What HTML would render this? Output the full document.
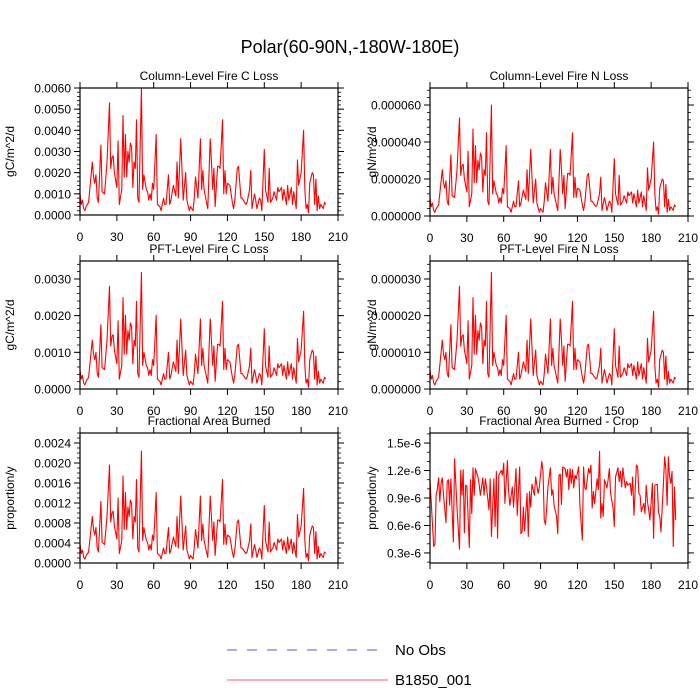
<!DOCTYPE html>
<html><head><meta charset="utf-8"><style>
html,body{margin:0;padding:0;background:#fff;width:700px;height:700px;overflow:hidden}
svg text{font-family:"Liberation Sans",sans-serif;fill:#000}
</style></head><body>
<svg id="chart" width="700" height="700" viewBox="0 0 700 700" xmlns="http://www.w3.org/2000/svg">
<text x="350" y="53" font-size="18" text-anchor="middle">Polar(60-90N,-180W-180E)</text>
<g>
<line x1="227" y1="650" x2="385" y2="650" stroke="#5a5ad0" stroke-width="1" stroke-dasharray="10,10"/>
<text x="395" y="655" font-size="15">No Obs</text>
<line x1="227" y1="680" x2="388" y2="680" stroke="#ff6060" stroke-width="1"/>
<text x="395" y="685" font-size="15">B1850_001</text>
</g>
</svg>
<script>
const years=[0,1,2,3,4,5,7,10,11,12,13,14,15,17,18,20,22,24,25,26,27,28,30,31,32,34,35,36,37,38,39,40,41,42,43,44,45,46,47,48,50,51,52,54,55,56,57,58,59,60,62,63,65,66,68,69,70,72,73,74,76,78,79,80,82,84,86,87,89,90,92,93,94,96,98,99,100,101,103,104,106,107,108,109,110,112,113,114,116,117,118,119,120,122,124,125,126,128,129,131,132,133,135,136,138,139,140,142,143,144,146,147,148,150,151,153,154,155,157,158,160,161,162,164,165,166,168,169,170,172,173,174,176,177,178,180,182,183,184,185,186,187,189,190,191,192,193,194,195,196,198,199,200];
// column C loss (1e-4 gC/m^2/d)
const colC=[10,5,7,3,2,4,6,25,18,15,19,8,6,33,11,10,25,53,22,27,28,20,13,35,5,12,47,18,38,18,30,25,34,32,13,25,22,45,8,6,60,12,19,12,11,7,10,7,15,12,38,5,4,2,8,5,5,19,5,7,14,9,25,8,36,7,20,7,2,4,2,8,18,8,36,12,21,12,6,3,36,25,12,22,4,23,23,22,45,10,21,10,15,14,6,3,7,22,23,8,8,7,5,6,12,21,3,10,7,3,8,7,2,31,12,6,22,6,8,11,7,13,11,13,7,12,5,14,7,13,5,11,3,26,14,20,40,12,3,5,1,15,20,19,5,17,2,9,3,5,3,6,5];
// column N loss (1e-6 gN/m^2/d)
const colN=[10,5,7,3,2,4,6,25,18,15,19,8,6,33,11,10,25,53,22,27,28,20,13,35,5,12,47,18,38,18,30,25,34,32,13,25,22,45,8,6,60,12,19,12,11,7,10,7,15,12,38,5,4,2,8,5,5,19,5,7,14,9,25,8,36,7,20,7,2,4,2,8,18,8,36,12,21,12,6,3,36,25,12,22,4,23,23,22,45,10,21,10,15,14,6,3,7,22,23,8,8,7,5,6,12,21,3,10,7,3,8,7,2,31,12,6,22,6,8,11,7,13,11,13,7,12,5,14,7,13,5,11,3,26,14,20,40,12,3,5,1,15,20,19,5,17,2,9,3,5,3,6,5];
// PFT C loss (1e-4)
const pftC=[5.3,2.7,3.7,1.6,1.1,2.1,3.2,13.3,9.5,8,10,4.2,3.2,17.5,5.8,5.3,13.3,28,11.7,14.3,14.8,10.6,6.9,18.6,2.7,6.4,24.9,9.5,20.1,9.5,15.9,13.3,18,17,6.9,13.3,11.7,23.9,4.2,3.2,31.8,6.4,10,6.4,5.8,3.7,5.3,3.7,8,6.4,20.1,2.7,2.1,1.1,4.2,2.7,2.7,10,2.7,3.7,7.4,4.8,13.3,4.2,19.1,3.7,10.6,3.7,1.1,2.1,1.1,4.2,9.5,4.2,19.1,6.4,11.1,6.4,3.2,1.6,19.1,13.3,6.4,11.7,2.1,12.2,12.2,11.7,23.9,5.3,11.1,5.3,8,7.4,3.2,1.6,3.7,11.7,12.2,4.2,4.2,3.7,2.7,3.2,6.4,11.1,1.6,5.3,3.7,1.6,4.2,3.7,1.1,16.4,6.4,3.2,11.7,3.2,4.2,5.8,3.7,6.9,5.8,6.9,3.7,6.4,2.7,7.4,3.7,6.9,2.7,5.8,1.6,13.8,7.4,10.6,21.2,6.4,1.6,2.7,0.5,8,10.6,10,2.7,9,1.1,4.8,1.6,2.7,1.6,3.2,2.7];
// PFT N loss (1e-6)
const pftN=[5.3,2.7,3.7,1.6,1.1,2.1,3.2,13.3,9.5,8,10,4.2,3.2,17.5,5.8,5.3,13.3,28,11.7,14.3,14.8,10.6,6.9,18.6,2.7,6.4,24.9,9.5,20.1,9.5,15.9,13.3,18,17,6.9,13.3,11.7,23.9,4.2,3.2,31.8,6.4,10,6.4,5.8,3.7,5.3,3.7,8,6.4,20.1,2.7,2.1,1.1,4.2,2.7,2.7,10,2.7,3.7,7.4,4.8,13.3,4.2,19.1,3.7,10.6,3.7,1.1,2.1,1.1,4.2,9.5,4.2,19.1,6.4,11.1,6.4,3.2,1.6,19.1,13.3,6.4,11.7,2.1,12.2,12.2,11.7,23.9,5.3,11.1,5.3,8,7.4,3.2,1.6,3.7,11.7,12.2,4.2,4.2,3.7,2.7,3.2,6.4,11.1,1.6,5.3,3.7,1.6,4.2,3.7,1.1,16.4,6.4,3.2,11.7,3.2,4.2,5.8,3.7,6.9,5.8,6.9,3.7,6.4,2.7,7.4,3.7,6.9,2.7,5.8,1.6,13.8,7.4,10.6,21.2,6.4,1.6,2.7,0.5,8,10.6,10,2.7,9,1.1,4.8,1.6,2.7,1.6,3.2,2.7];
// fractional area burned (1e-4 proportion/y)
const farea=[3.8,1.9,2.6,1.1,0.8,1.5,2.2,9.3,6.7,5.6,7.1,3,2.2,12.3,4.1,3.7,9.3,19.6,8.2,10,10.4,7.4,4.8,13,1.9,4.5,17.4,6.7,14.1,6.7,11.2,9.3,12.6,11.9,4.8,9.3,8.2,16.7,3,2.2,22.4,4.5,7.1,4.5,4.1,2.6,3.7,2.6,5.6,4.5,14.1,1.9,1.5,0.8,3,1.9,1.9,7.1,1.9,2.6,5.2,3.3,9.3,3,13.4,2.6,7.4,2.6,0.8,1.5,0.8,3,6.7,3,13.4,4.5,7.8,4.5,2.2,1.1,13.4,9.3,4.5,8.2,1.5,8.6,8.6,8.2,16.7,3.7,7.8,3.7,5.6,5.2,2.2,1.1,2.6,8.2,8.6,3,3,2.6,1.9,2.2,4.5,7.8,1.1,3.7,2.6,1.1,3,2.6,0.8,11.5,4.5,2.2,8.2,2.2,3,4.1,2.6,4.8,4.1,4.8,2.6,4.5,1.9,5.2,2.6,4.8,1.9,4.1,1.1,9.7,5.2,7.4,14.9,4.5,1.1,1.9,0.4,5.6,7.4,7.1,1.9,6.3,0.8,3.3,1.1,1.9,1.1,2.2,1.9];
const cropYears=[0,3,4,5,6,7,8,9,10,11,13,14,15,16,17,19,20,22,24,25,26,27,28,29,30,32,33,34,35,36,37,39,40,41,43,44,45,46,48,49,50,52,53,54,55,56,58,59,60,61,63,64,65,67,68,70,71,73,74,75,76,77,79,80,81,82,83,85,86,87,88,89,91,92,93,94,95,96,98,99,100,101,103,104,105,106,107,108,110,111,112,113,114,115,116,117,118,119,121,122,124,125,126,127,129,130,131,132,133,134,136,137,138,139,140,141,142,144,145,146,147,149,150,151,153,154,155,156,157,158,159,160,161,163,164,165,166,168,169,170,171,172,174,175,176,177,178,179,181,182,183,185,186,187,188,190,191,192,193,194,195,196,197,198,199,200];
// fractional area burned crop (1e-7 proportion/y)
const cropArea=[11,3.7,3.9,9.3,10,11.2,8.6,10.6,11.2,9.3,6.3,10.8,11,8.2,11.1,4.2,13.3,7.9,3.4,12,9.3,12.1,5.2,10.4,10.3,3.6,11,7.3,12.3,9.3,12.2,11.3,10.5,9.3,11.2,9.3,11.1,10.2,7.7,11.1,4.8,11.1,5.9,11.9,4.6,11.5,12,11.5,12.8,8.4,13.1,9.7,8.2,10.2,8,12.2,7.1,12.4,5.1,5.3,8,5.4,9.5,4.8,9.7,8,10.5,9.3,11.3,10.4,9.5,10.2,13,11.9,6.6,6.1,8,10.2,12.3,9.3,9.9,8.2,7,5.1,11.5,11.6,8.3,12.4,12.2,11.3,12.1,9.9,12.2,10.6,12.1,10.1,11.5,11.1,12.4,8.2,4.4,12.4,10.1,9.9,12.2,11.7,12.6,7.9,9.7,8.4,11.1,9.9,14.1,6.8,8.4,7,11,10.1,11,12.2,9.5,7.9,5.9,11.3,12.3,10.8,11.9,10.2,12.3,11.1,10.1,10.8,10.4,10.6,9.3,11.3,7.1,12.6,12.4,9.5,9.3,7.5,8.4,7.3,10.4,8.6,7.7,6.6,10.6,4.6,10.4,10.5,7.4,7,5.3,10.6,13.5,12.1,8.2,13.5,11.3,10.6,11.9,3.7,10.2,6.6];
const xTicks=[0,30,60,90,120,150,180,210];
const ticks1=["0.0000","0.0010","0.0020","0.0030","0.0040","0.0050","0.0060"];
const ticks2=["0.000000","0.000020","0.000040","0.000060"];
const ticks3=["0.0000","0.0010","0.0020","0.0030"];
const ticks4=["0.000000","0.000010","0.000020","0.000030"];
const ticks5=["0.0000","0.0004","0.0008","0.0012","0.0016","0.0020","0.0024"];
const ticks6=["0.3e-6","0.6e-6","0.9e-6","1.2e-6","1.5e-6"];

const NS="http://www.w3.org/2000/svg";
const svg=document.getElementById('chart');
function mk(tag,attrs,parent){const e=document.createElementNS(NS,tag);for(const k in attrs)e.setAttribute(k,attrs[k]);(parent||svg).appendChild(e);return e;}

const panels=[
 {name:'column-c-loss',title:'Column-Level Fire C Loss',ylab:'gC/m^2/d',x0:80,y0:88,y1:215,ymin:0,ymax:0.006,unit:1e-4,xs:years,vs:colC,tlab:ticks1,t0:0,tstep:0.001,minor:0.0002,labx:10},
 {name:'column-n-loss',title:'Column-Level Fire N Loss',ylab:'gN/m^2/d',x0:430,y0:88,y1:216,ymin:0,ymax:0.0000692,unit:1e-6,xs:years,vs:colN,tlab:ticks2,t0:0,tstep:0.00002,minor:0.000004,labx:372},
 {name:'pft-c-loss',title:'PFT-Level Fire C Loss',ylab:'gC/m^2/d',x0:80,y0:261,y1:389,ymin:0,ymax:0.00349,unit:1e-4,xs:years,vs:pftC,tlab:ticks3,t0:0,tstep:0.001,minor:0.0002,labx:10},
 {name:'pft-n-loss',title:'PFT-Level Fire N Loss',ylab:'gN/m^2/d',x0:430,y0:261,y1:389,ymin:0,ymax:0.0000349,unit:1e-6,xs:years,vs:pftN,tlab:ticks4,t0:0,tstep:0.00001,minor:0.000002,labx:372},
 {name:'fractional-area-burned',title:'Fractional Area Burned',ylab:'proportion/y',x0:80,y0:433,y1:563,ymin:0,ymax:0.0026,unit:1e-4,xs:years,vs:farea,tlab:ticks5,t0:0,tstep:0.0004,minor:0.0001,labx:10},
 {name:'fractional-area-burned-crop',title:'Fractional Area Burned - Crop',ylab:'proportion/y',x0:430,y0:433,y1:563,ymin:0.19e-6,ymax:1.61e-6,unit:1e-7,xs:cropYears,vs:cropArea,tlab:ticks6,t0:0.3e-6,tstep:0.3e-6,minor:0.1e-6,labx:372}
];
const W=258;
panels.forEach(p=>{
  const g=mk('g',{});
  
  
  const xS=v=>p.x0+v/210*W;
  const yS=v=>p.y1-(v-p.ymin)/(p.ymax-p.ymin)*(p.y1-p.y0);
  let d='';
  const n=Math.min(p.xs.length,p.vs.length);
  for(let i=0;i<n;i++){d+=(i?'L':'M')+xS(p.xs[i]).toFixed(2)+','+yS(p.vs[i]*p.unit).toFixed(2);}
  const ln=mk('path',{d:d,fill:'none',stroke:'#ff0000','stroke-width':1.1,'stroke-linejoin':'round'},g);
  
  
  const bx=mk('rect',{x:p.x0,y:p.y0,width:W,height:p.y1-p.y0,fill:'none',stroke:'#000','stroke-width':1.2},g);
  
  
  xTicks.forEach(t=>{
    const x=xS(t);
    mk('line',{x1:x,y1:p.y1,x2:x,y2:p.y1+6,stroke:'#000','stroke-width':1},g);
    mk('line',{x1:x,y1:p.y0,x2:x,y2:p.y0-6,stroke:'#000','stroke-width':1},g);
    const tl=mk('text',{x:x,y:p.y1+26,'font-size':12,'text-anchor':'middle'},g);
    tl.textContent=t;
    
    
  });
  for(let v=p.t0-Math.floor((p.t0-p.ymin)/p.minor)*p.minor;v<=p.ymax+1e-12;v+=p.minor){
    const y=yS(v);
    if(y<p.y0-0.5||y>p.y1+0.5)continue;
    mk('line',{x1:p.x0,y1:y,x2:p.x0-3,y2:y,stroke:'#000','stroke-width':0.8},g);
    mk('line',{x1:p.x0+W,y1:y,x2:p.x0+W+3,y2:y,stroke:'#000','stroke-width':0.8},g);
  }
  p.tlab.forEach((lab,i)=>{
    const y=yS(p.t0+i*p.tstep);
    mk('line',{x1:p.x0,y1:y,x2:p.x0-6,y2:y,stroke:'#000','stroke-width':1},g);
    mk('line',{x1:p.x0+W,y1:y,x2:p.x0+W+6,y2:y,stroke:'#000','stroke-width':1},g);
    const tl=mk('text',{x:p.x0-9,y:y+4.5,'font-size':12,'text-anchor':'end'},g);
    tl.textContent=lab;
    
    
  });
  const tt=mk('text',{x:p.x0+W/2,y:p.y0-8,'font-size':12,'text-anchor':'middle'},g);
  tt.textContent=p.title;
  
  
  const yl=mk('text',{x:0,y:0,'font-size':12,'text-anchor':'middle',transform:'translate('+(p.labx+4)+','+((p.y0+p.y1)/2)+') rotate(-90)'},g);
  yl.textContent=p.ylab;
  
  
});
</script>
</body></html>
